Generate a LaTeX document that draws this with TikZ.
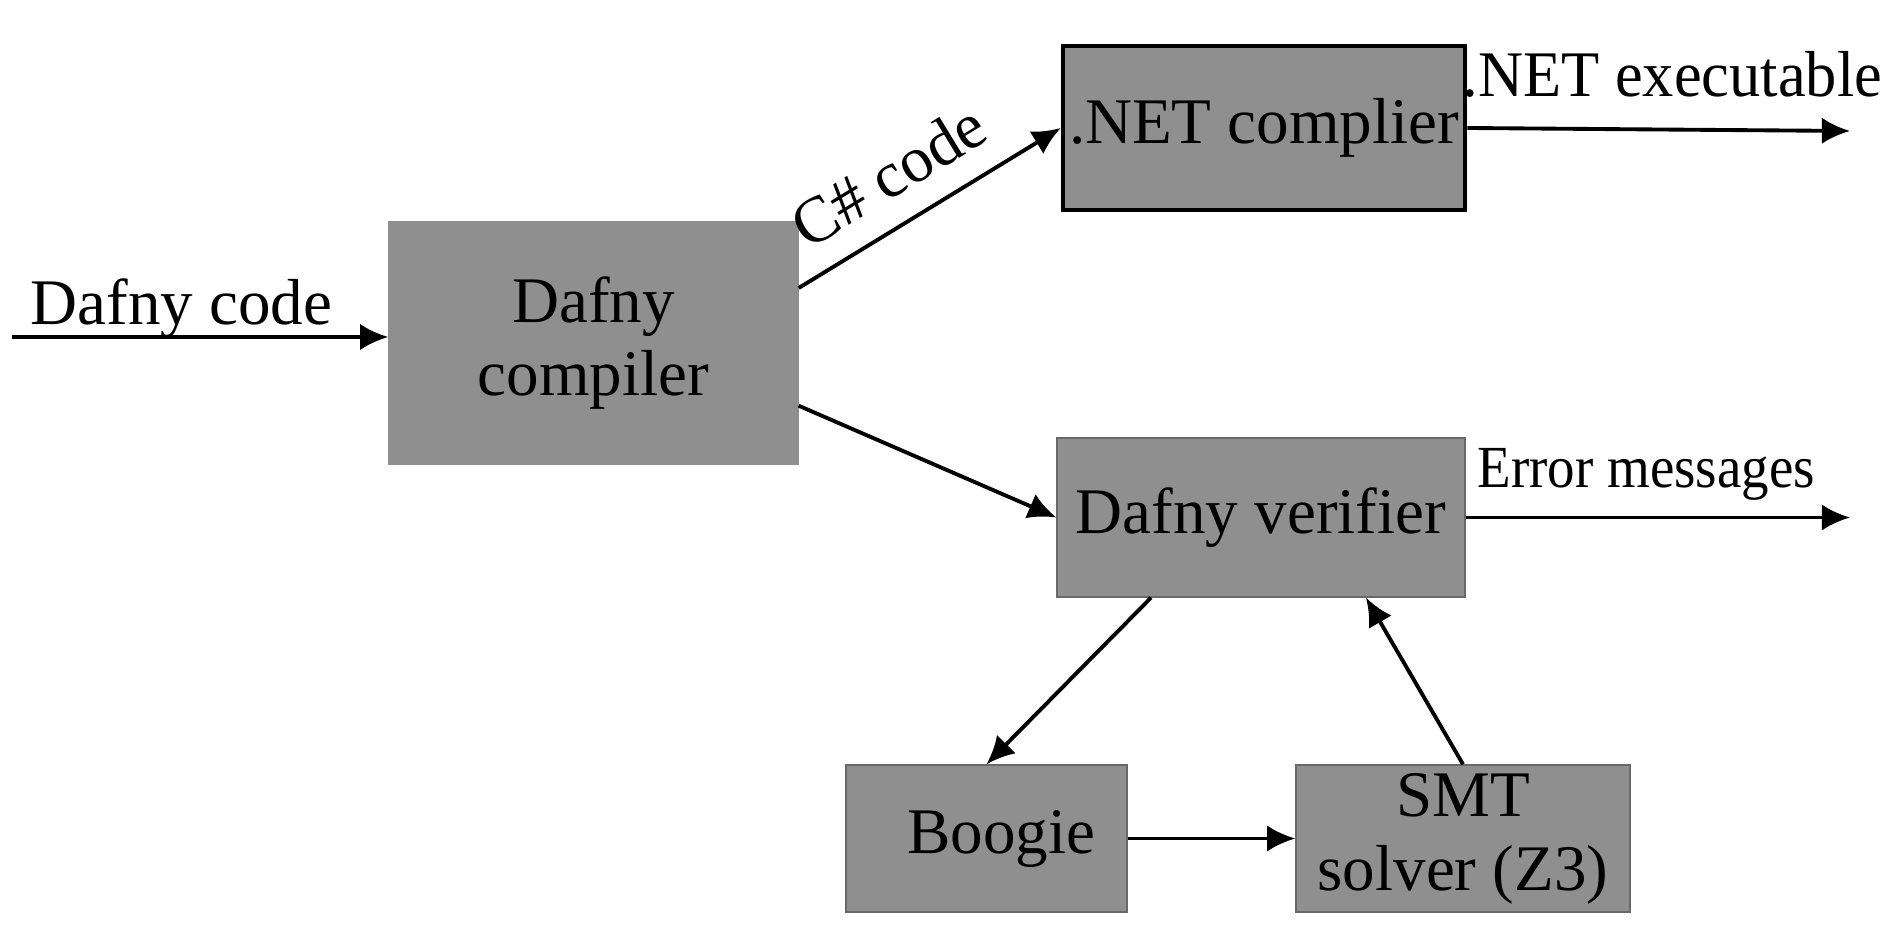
\documentclass[tikz,border=0pt]{standalone}
\usepackage{fontspec}
\setmainfont{Liberation Serif}
\usepackage{tikz}
\usetikzlibrary{arrows.meta}
\definecolor{boxgray}{RGB}{143,143,143}
\definecolor{boxedge}{RGB}{105,105,105}

\begin{document}
\begin{tikzpicture}%
        [font=\fontsize{18.5}{21}\selectfont,
        box/.style={fill=boxgray,draw=boxedge,thin,align=center,inner sep=0pt},
        netbox/.style={box,draw=black,line width=1.3pt},
        conn/.style={color=black,line width=1.1pt,-{Latex[length=8pt,width=7.5pt]}}]

    %% Frame
    \useasboundingbox (0,0) rectangle (18.9,-9.45);
    %% Boxes
    \node[box,draw=boxgray,minimum width=4.09cm,minimum height=2.42cm] (compiler) at (5.935,-3.43) {Dafny\\compiler};
    \node[netbox,minimum width=4.02cm,minimum height=1.64cm] (netc) at (12.64,-1.28) {.NET complier};
    \node[box,minimum width=4.08cm,minimum height=1.59cm] (verifier) at (12.61,-5.175) {Dafny verifier};
    \node[box,minimum width=2.81cm,minimum height=1.47cm] (boogie) at (9.865,-8.385) {\hspace{0.3cm}Boogie};
    \node[box,minimum width=3.34cm,minimum height=1.47cm] (smt) at (14.63,-8.385) {SMT\\solver (Z3)};
    %% Free ends
    \coordinate (in) at (0.12,-3.37);
    \coordinate (netout) at (18.5,-1.31);
    \coordinate (errout) at (18.5,-5.175);
    %% Connectors
    \draw[conn] (in) -- ([yshift=0.06cm]compiler.west) node[pos=0.45,above,inner sep=0pt,yshift=-1pt] (inlbl) {Dafny code};
    \draw[conn] (compiler.15) -- (netc.west) node[pos=0.44,above,sloped,inner sep=7pt] (cslbl) {C\# code};
    \draw[conn] (compiler.-17) -- (verifier.west);
    \draw[conn] (netc.east) -- (netout);
    \draw[conn] (verifier.east) -- (errout);
    \draw[conn] ([xshift=-1.1cm]verifier.south) -- (boogie.north);
    \draw[conn] (smt.north) -- ([xshift=1.05cm]verifier.south);
    \draw[conn] (boogie.east) -- (smt.west);
    %% Output labels
    \node[anchor=base west,inner sep=0pt] (netlbl) at (14.62,-0.97) {\scalebox{0.96}[1]{.NET executable}};
    \node[anchor=base west,inner sep=0pt] (errlbl) at (14.77,-4.88) {\fontsize{17}{20}\selectfont\scalebox{0.92}[1]{Error messages}};
    %%
\end{tikzpicture}
\end{document}
